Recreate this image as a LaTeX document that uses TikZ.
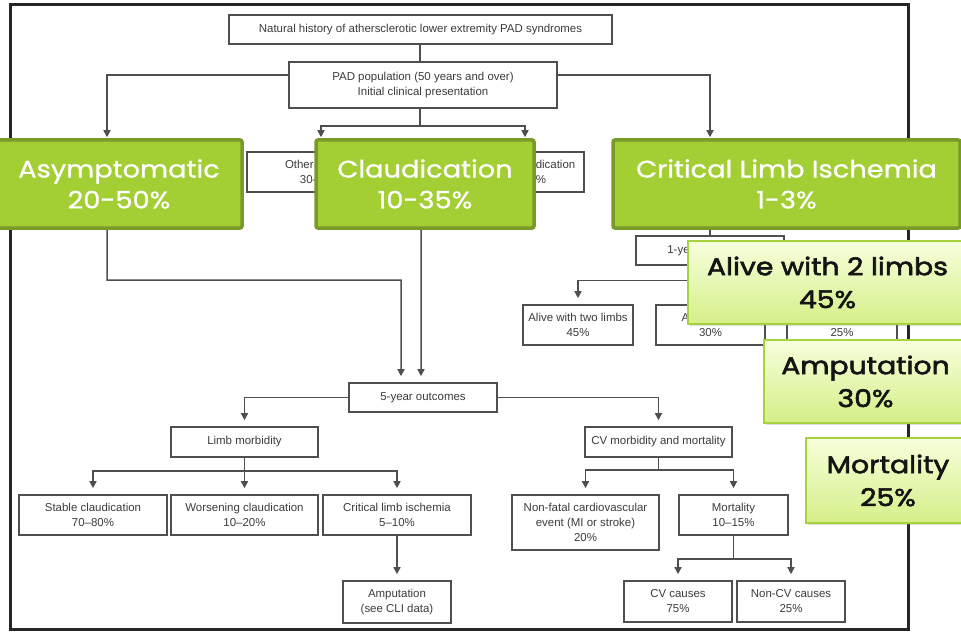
\documentclass[tikz,border=0pt]{standalone}
\usepackage{fontspec}
\setmainfont{Liberation Sans}
\newfontfamily\greenfont[FakeStretch=1.14, FakeBold=0.9]{Poppins}
\newfontfamily\palefont[FakeStretch=1.16, FakeBold=2.4]{Poppins}
\usetikzlibrary{arrows.meta,shadows}

\definecolor{chartline}{HTML}{4F4F4F}
\definecolor{charttext}{HTML}{3C3C3C}
\definecolor{leaf}{HTML}{A3CE34}
\definecolor{leafedge}{HTML}{789A2A}
\definecolor{paletop}{HTML}{F6FFDC}
\definecolor{palebot}{HTML}{D5EF88}
\definecolor{paleedge}{HTML}{A6D23C}

\pgfdeclarelayer{front}
\pgfsetlayers{main,front}

\tikzset{
  chartbox/.style={draw=chartline, line width=1.6bp, fill=white, align=center,
    text=charttext, inner sep=0pt, font=\fontsize{11.5}{15}\selectfont},
  link/.style={draw=chartline, line width=1.5bp},
  flow/.style={link, -{Triangle[width=7bp,length=7bp]}, shorten >=6bp},
  flowin/.style={link, -{Triangle[width=7bp,length=7bp]}, shorten >=1bp},
  greenbox/.style={draw=leafedge, fill=leaf, line width=3.5bp, rounded corners=2bp,
    text=white, align=center, inner sep=0pt,
    font=\greenfont\fontsize{24}{31}\selectfont},
  palebox/.style={draw=paleedge, line width=2bp, top color=paletop, bottom color=palebot,
    text=black!92, align=center, inner sep=0pt,
    font=\palefont\fontsize{24.5}{33}\selectfont,
    drop shadow={shadow xshift=1.5bp, shadow yshift=-1.5bp, opacity=0.25}}
}

\begin{document}
\begin{tikzpicture}[x=1bp, y=-1bp]
\useasboundingbox (0,0) rectangle (961,633);
\fill[white] (0,0) rectangle (961,633);

% outer frame of the chart
\draw[line width=3bp, draw=black!85] (10,5) rectangle (908,629);

% highlighted presentation groups (drawn on top)
\begin{pgfonlayer}{front}
\node[greenbox, minimum width=246bp, minimum height=88bp] (asym) at (119,184) {Asymptomatic\\20-50\%};
\node[greenbox, minimum width=218bp, minimum height=88bp] (claud) at (425,184) {Claudication\\10-35\%};
\node[greenbox, minimum width=347bp, minimum height=88bp] (cli) at (786.5,184) {Critical Limb Ischemia\\1-3\%};
\node[palebox, minimum width=279bp, minimum height=83bp] (alive) at (827.5,282.5) {Alive with 2 limbs\\45\%};
\node[palebox, minimum width=203bp, minimum height=83bp] (ampl) at (865.5,381.5) {Amputation\\30\%};
\node[palebox, minimum width=164bp, minimum height=85bp] (mortl) at (888,480.5) {Mortality\\25\%};
\end{pgfonlayer}

% flow chart boxes
\node[chartbox, minimum width=383bp, minimum height=29bp] (title) at (420.5,29.5) {Natural history of athersclerotic lower extremity PAD syndromes};
\node[chartbox, minimum width=268bp, minimum height=46bp] (pad) at (423,85) {PAD population (50 years and over)\\Initial clinical presentation};
\node[chartbox, minimum width=148bp, minimum height=40bp] (other) at (321,172) {Other leg pain\\30--40\%};
\node[chartbox, minimum width=118bp, minimum height=40bp] (classic) at (525,172) {Classic claudication\\10--35\%};
\node[chartbox, minimum width=148bp, minimum height=29bp] (oneyear) at (710,250.5) {1-year outcomes};
\node[chartbox, minimum width=110bp, minimum height=40bp] (alivetwo) at (578,325) {Alive with two limbs\\45\%};
\node[chartbox, minimum width=109bp, minimum height=40bp] (ampone) at (710.5,325) {Amputation\\30\%};
\node[chartbox, minimum width=110bp, minimum height=40bp] (mortone) at (842,325) {Mortality\\25\%};
\node[chartbox, minimum width=148bp, minimum height=29bp] (fiveyr) at (423,397.5) {5-year outcomes};
\node[chartbox, minimum width=147bp, minimum height=30bp] (limb) at (244.5,442) {Limb morbidity};
\node[chartbox, minimum width=147bp, minimum height=30bp] (cvmm) at (658.5,442) {CV morbidity and mortality};
\node[chartbox, minimum width=148bp, minimum height=40bp] (stable) at (93,515) {Stable claudication\\70--80\%};
\node[chartbox, minimum width=147bp, minimum height=40bp] (worsen) at (244.5,515) {Worsening claudication\\10--20\%};
\node[chartbox, minimum width=148bp, minimum height=40bp] (clibox) at (397,515) {Critical limb ischemia\\5--10\%};
\node[chartbox, minimum width=147bp, minimum height=55bp] (nonfatal) at (585.5,522.5) {Non-fatal cardiovascular\\event (MI or stroke)\\20\%};
\node[chartbox, minimum width=109bp, minimum height=40bp] (morttwo) at (733.5,515) {Mortality\\10--15\%};
\node[chartbox, minimum width=108bp, minimum height=42bp] (ampsee) at (397,602) {Amputation\\(see CLI data)};
\node[chartbox, minimum width=108bp, minimum height=41bp] (cvc) at (678,601.5) {CV causes\\75\%};
\node[chartbox, minimum width=108bp, minimum height=41bp] (noncv) at (791,601.5) {Non-CV causes\\25\%};

% connectors: top of the chart
\draw[link] (title.south -| 420,0) -- (pad.north -| 420,0);
\draw[flowin] ([yshift=10bp]pad.west) -| ([xshift=-12bp]asym.north);
\draw[flowin] ([yshift=10bp]pad.east) -| (oneyear.north |- cli.north);
\draw[flowin] ([xshift=-3bp]pad.south) -- ++(0,17) -| (other.north |- claud.north);
\draw[flowin] ([xshift=-3bp]pad.south) -- ++(0,17) -| (classic.north |- claud.north);

% connectors into the 5-year outcomes
\draw[flow] ([xshift=-12bp]asym.south) |- (401,280) -- ([xshift=-22bp]fiveyr.north);
\draw[flow] ([xshift=-4bp]claud.south) -- ([xshift=-2bp]fiveyr.north);

% 1-year outcomes of critical limb ischemia
\draw[link] (oneyear.north |- cli.south) -- (oneyear.north);
\draw[flow] (oneyear.south) -- ++(0,14.5) -| (alivetwo.north);
\draw[flow] (oneyear.south) -- ++(0,14.5) -| (ampone.north);
\draw[flow] (oneyear.south) -- ++(0,14.5) -| (mortone.north);

% 5-year outcomes branches
\draw[flow] (fiveyr.west) -| (limb.north);
\draw[flow] (fiveyr.east) -| (cvmm.north);
\draw[flow] (limb.south) -- ++(0,13) -| (stable.north);
\draw[flow] (limb.south) -- ++(0,13) -| (worsen.north);
\draw[flow] (limb.south) -- ++(0,13) -| (clibox.north);
\draw[flow] (clibox.south) -- (ampsee.north);
\draw[flow] (cvmm.south) -- ++(0,12) -| (nonfatal.north);
\draw[flow] (cvmm.south) -- ++(0,12) -| (morttwo.north);
\draw[flow] (morttwo.south) -- ++(0,23) -| (cvc.north);
\draw[flow] (morttwo.south) -- ++(0,23) -| (noncv.north);
\end{tikzpicture}
\end{document}
